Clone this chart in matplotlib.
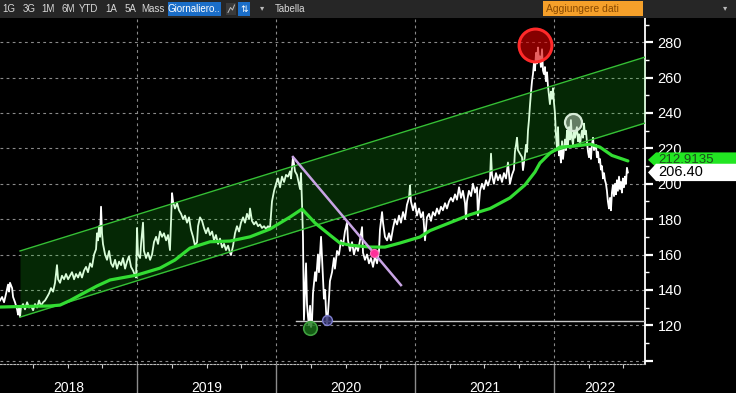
import matplotlib
matplotlib.use('Agg')
import matplotlib.pyplot as plt
from matplotlib.transforms import blended_transform_factory
from matplotlib.patches import Rectangle, Polygon

plt.rcParams['font.family'] = ['Liberation Sans', 'DejaVu Sans']

# ---------------- data (decimal years / price) ----------------
price_t = [
 2018.014,2018.029,2018.043,2018.058,2018.072,2018.079,2018.086,2018.101,2018.108,2018.122,
 2018.137,2018.144,2018.151,2018.158,2018.165,2018.180,2018.194,2018.209,2018.223,2018.237,
 2018.252,2018.266,2018.281,2018.295,2018.309,2018.324,2018.338,2018.353,2018.367,2018.381,
 2018.396,2018.410,2018.424,2018.432,2018.446,2018.460,2018.475,2018.489,2018.504,2018.518,
 2018.532,2018.547,2018.561,2018.576,2018.590,2018.604,2018.619,2018.633,2018.647,2018.662,
 2018.676,2018.691,2018.705,2018.712,2018.719,2018.727,2018.734,2018.741,2018.748,2018.755,
 2018.770,2018.784,2018.799,2018.813,2018.827,2018.842,2018.856,2018.871,
 2018.885,2018.899,2018.914,2018.928,2018.942,2018.957,2018.971,2018.986,2018.993,
 2019.000,2019.007,2019.022,2019.029,2019.043,2019.050,2019.065,2019.079,2019.094,2019.108,
 2019.122,2019.137,2019.151,2019.165,2019.180,2019.194,2019.209,2019.223,2019.237,2019.245,
 2019.252,2019.259,2019.273,2019.288,2019.302,2019.317,2019.331,2019.345,2019.360,2019.374,
 2019.388,2019.403,2019.417,2019.432,2019.439,2019.453,2019.468,2019.482,2019.496,2019.511,
 2019.525,2019.540,2019.554,2019.568,2019.583,2019.597,2019.612,2019.626,2019.640,2019.655,
 2019.669,2019.676,2019.691,2019.705,2019.719,2019.734,2019.748,2019.763,2019.777,2019.791,
 2019.806,2019.813,2019.827,2019.842,2019.856,2019.871,2019.885,2019.899,2019.914,2019.928,
 2019.942,2019.957,2019.971,2019.986,
 2020.000,2020.014,2020.029,2020.043,2020.058,2020.072,2020.086,2020.101,2020.108,2020.122,
 2020.137,2020.151,2020.165,2020.173,2020.180,2020.187,2020.194,2020.201,2020.209,2020.216,
 2020.223,2020.230,2020.237,2020.245,2020.252,2020.259,2020.266,2020.281,2020.288,2020.302,
 2020.309,2020.324,2020.331,2020.338,2020.345,2020.353,2020.360,2020.367,2020.374,2020.381,
 2020.388,2020.403,2020.417,2020.424,2020.439,2020.453,2020.468,2020.482,2020.496,2020.511,
 2020.518,2020.532,2020.547,2020.561,2020.576,2020.590,2020.604,2020.619,2020.626,2020.640,
 2020.655,2020.669,2020.683,2020.698,2020.712,2020.727,2020.741,2020.748,2020.763,2020.770,
 2020.784,2020.799,2020.813,2020.827,2020.842,2020.856,2020.871,2020.885,2020.899,2020.914,
 2020.928,2020.942,2020.957,2020.964,2020.971,2020.986,
 2021.000,2021.014,2021.029,2021.043,2021.058,2021.072,2021.086,2021.101,2021.115,2021.129,
 2021.144,2021.158,2021.173,2021.187,2021.201,2021.216,2021.230,2021.245,2021.259,2021.273,
 2021.288,2021.302,2021.317,2021.331,2021.345,2021.360,2021.367,2021.374,2021.388,2021.403,
 2021.417,2021.432,2021.446,2021.453,2021.468,2021.482,2021.496,2021.511,2021.525,2021.540,
 2021.547,2021.554,2021.568,2021.583,2021.597,2021.612,2021.626,2021.640,2021.655,2021.669,
 2021.683,2021.698,2021.712,2021.719,2021.727,2021.734,2021.741,2021.755,2021.770,2021.777,
 2021.791,2021.799,2021.806,2021.813,2021.820,2021.827,2021.835,2021.842,2021.849,2021.856,
 2021.863,2021.871,2021.878,2021.885,2021.892,2021.899,2021.906,2021.914,2021.921,2021.928,
 2021.935,2021.942,2021.950,2021.957,2021.964,2021.971,2021.978,2021.986,2021.993,
 2022.000,2022.007,2022.014,2022.022,2022.029,2022.036,2022.043,2022.050,2022.058,2022.065,
 2022.079,2022.086,2022.094,2022.101,2022.108,2022.115,2022.122,2022.129,2022.137,2022.144,
 2022.151,2022.165,2022.173,2022.180,2022.187,2022.201,2022.209,2022.216,2022.223,2022.230,
 2022.237,2022.245,2022.252,2022.259,2022.266,2022.273,2022.281,2022.288,2022.302,2022.309,
 2022.317,2022.324,2022.331,2022.338,2022.345,2022.353,2022.360,2022.367,2022.374,2022.381,
 2022.388,2022.396,2022.403,2022.410,2022.417,2022.424,2022.432,2022.439,2022.446,2022.453,
 2022.460,2022.468,2022.475,2022.482,2022.489,2022.496,2022.504,2022.511,2022.518,2022.525,
 2022.532]
price_v = [
 134,136,133,138,143,139,144,141,136,133,
 129,126,130,124.8,130,132,129,133,130,131,
 128.5,132,130,134,131,133,134,136,138,141,
 139,144,154,146,144,148,146,149,146,148,
 150,146,149,147,150,147,151,153,150,155,
 153,160,163,172,168,176,170,187,172,166,
 160,157,162,155,153,157,152,156,
 154,158,152,156,159,153,151,148,147,
 175,160,158,166,178,162,158,161,157,160,
 167,170,166,173,170,172,168,171,162.5,180,
 194.7,190,186,189,185,183,180,182,178,181,
 174,170,165,167,176,181,179,175,172,175,
 171,173,168,171,166,169,164,166,162.5,165,
 161,159.7,165,172,176,173,178,181,178,183,
 180,186,179,177,178.5,176,177,175,176,174.5,
 176,175,190,196,
 200,203,198,204,201,205,204,207,203,215,
 207,205,200,197,206,189,170,123,140,155,
 132,125,120,131,119,122,138,150,145,160,
 150,170,158,145,135,140,128,120,127,135,
 145,150,158,152,162,160,168,165,173,178,
 168,162,167,160,165,162,168,175.5,161,157,
 160,155,158,153,159,155,162,174,184,178,
 170,168,172,168,175,180,177,182,178,184,
 180,188,192,199,190,185,
 189,182,186,181,184,168,181,183,179,184,
 182,186,183,187,185,189,186,190,192,190,
 194,191,198,192,196,189,180,190,196,193,
 200,195,198,182,196,200,197,202,199,203,
 217,205,200,206,202,205,201,206,203,212,
 200,205,208,218,222,226,219,217,215,207.7,
 216,222,218,230,236,244,252,258,262,268,
 264,274,268,277,270,272,266,276,264,262,
 266,258,263,255,250,245,252,248,254,
 246,240,228,220,232,216,220,212,224,214,
 225,219,230,222,232,225,236,226,222,230,
 226,232,224,228,222,230,226,234,228,230,
 224,218,215,220,214,222,226,219,222,215,
 218,212,214,208,210,203,206,202,200,196,
 190,186,192,185,195,199,193,200,194,202,
 196,204,197,201,195,203,198,204,200,209,
 206.4]

ma_t = [2018.014, 2018.158, 2018.374, 2018.446, 2018.518, 2018.590, 2018.712, 2018.806,
        2019.000, 2019.165, 2019.273, 2019.381, 2019.525, 2019.669, 2019.813, 2019.957,
        2020.101, 2020.187, 2020.281, 2020.388, 2020.460, 2020.532, 2020.676, 2020.784,
        2020.892, 2021.036, 2021.108, 2021.252, 2021.396, 2021.540, 2021.683, 2021.791,
        2021.863, 2021.899, 2021.971, 2022.043, 2022.151, 2022.259, 2022.331, 2022.417,
        2022.532]
ma_v = [130.3, 130.6, 130.9, 131.4, 134.0, 137.1, 142.2, 145.6,
        148.4, 152.3, 156.9, 163.6, 167.2, 167.6, 170.0, 174.4,
        181.2, 185.7, 177.8, 171.0, 166.5, 165.3, 164.2, 164.2,
        166.5, 169.9, 173.5, 178.0, 182.5, 186.0, 192.0, 199.3,
        206.6, 211.7, 217.3, 220.7, 221.3, 222.4, 220.7, 216.0,
        212.9]

channel_t = [2018.158, 2022.655]
channel_upper = [162.0, 271.6]
channel_lower = [124.6, 234.3]

trend_t = [2020.122, 2020.899]
trend_v = [215.1, 142.7]

support_t = [2020.144, 2022.655]
support_v = [122.3, 122.3]

peak_pt = (2021.863, 278.4)
retest_pt = (2022.137, 234.9)
low1_pt = (2020.245, 118.4)
low2_pt = (2020.367, 122.9)
cross_pt = (2020.705, 160.8)

last_price = 206.40
last_ma = 212.9135

years = [2018, 2019, 2020, 2021, 2022]
yticks = list(range(100, 281, 20))
x_range = (2018.014, 2022.655)
y_range = (98.1, 293.7)

toolbar_items = ['1G', '3G', '1M', '6M', 'YTD', '1A', '5A', 'Mass']

# ---------------- figure ----------------
W, H = 736, 393
fig = plt.figure(figsize=(W / 100, H / 100), dpi=100, facecolor='black')

ax = fig.add_axes([0, 1 - 364 / H, 645 / W, (364 - 18) / H])
ax.set_facecolor('black')

# ticks (only those inside the visible range)
ax.set_xticks([y for y in years if x_range[0] < y < x_range[1]])
ax.set_xticks([y + q for y in years for q in (0.25, 0.5, 0.75)
               if x_range[0] < y + q < x_range[1]], minor=True)
ax.set_yticks(yticks)
ax.set_yticks([v + 10 for v in yticks if v + 10 < y_range[1]], minor=True)
ax.set_xlim(*x_range)
ax.set_ylim(*y_range)
ax.grid(True, which='major', color='#8a8a8a', linestyle=(0, (2.5, 3)), linewidth=0.8, zorder=0)

# price
ax.plot(price_t, price_v, color='white', linewidth=1.3, zorder=2)

# channel
ax.fill_between(channel_t, channel_lower, channel_upper, color=(0.12, 0.95, 0.12), alpha=0.17,
                linewidth=0, zorder=3)
ax.plot(channel_t, channel_upper, color='#35c035', linewidth=1.0, zorder=4)
ax.plot(channel_t, channel_lower, color='#35c035', linewidth=1.0, zorder=4)

# moving average
ax.plot(ma_t, ma_v, color='#33dd33', linewidth=2.3, zorder=5, solid_capstyle='round')

# trend line and support
ax.plot(trend_t, trend_v, color='#c8a4e4', linewidth=1.8, zorder=6)
ax.plot(support_t, support_v, color='#c8c8c8', linewidth=1.0, zorder=6)

# markers
ax.scatter([peak_pt[0]], [peak_pt[1]], s=560, facecolor=(0.85, 0.0, 0.0, 0.62),
           edgecolor='#ff2a2a', linewidth=2.2, zorder=7)
ax.scatter([retest_pt[0]], [retest_pt[1]], s=150, facecolor=(0.85, 0.9, 0.85, 0.45),
           edgecolor='#d8ecd8', linewidth=1.6, zorder=7)
ax.scatter([low1_pt[0]], [low1_pt[1]], s=95, facecolor=(0.1, 0.45, 0.1, 0.8),
           edgecolor='#3fa03f', linewidth=1.2, zorder=7)
ax.scatter([low2_pt[0]], [low2_pt[1]], s=50, facecolor=(0.2, 0.2, 0.45, 0.85),
           edgecolor='#8080d0', linewidth=1.0, zorder=7)
ax.scatter([cross_pt[0]], [cross_pt[1]], s=34, facecolor='#ff2f9a', edgecolor='#ff70b8',
           linewidth=0.8, zorder=8)

# spines / ticks
for s in ('left', 'top'):
    ax.spines[s].set_visible(False)
ax.spines['right'].set_color('white')
ax.spines['right'].set_linewidth(1.3)
ax.spines['bottom'].set_color('#bbbbbb')
ax.spines['bottom'].set_linestyle((0, (1.5, 1.5)))
ax.yaxis.tick_right()
ax.set_yticklabels(['' if v == 100 else str(v) for v in yticks])
ax.tick_params(axis='y', which='major', colors='white', length=6, width=1.6, pad=3,
               labelsize=10.5)
ax.tick_params(axis='y', which='minor', colors='white', length=3, width=1)
ax.tick_params(axis='x', which='major', colors='#8c8c8c', length=21, width=1, labelbottom=False)
ax.tick_params(axis='x', which='minor', colors='#cccccc', length=3, width=0.8)

# year labels centred on visible part of each year
xtr = ax.get_xaxis_transform()
for y in years:
    a = max(y, x_range[0])
    b = min(y + 1, x_range[1])
    ax.text((a + b) / 2, -0.068, str(y), transform=xtr, ha='center', va='center',
            color='white', fontsize=10, clip_on=False)

# right side value tags (the price tag partly covers the average tag, as in the terminal)
btr = blended_transform_factory(fig.transFigure, ax.transData)
def tag(val, half, face, txtcol, text, z, size):
    x0, xt, x1 = 648 / W, 656 / W, 1.0
    poly = Polygon([(x0, val), (xt, val + half), (x1, val + half), (x1, val - half), (xt, val - half)],
                   closed=True, transform=btr, facecolor=face, edgecolor='none',
                   clip_on=False, zorder=z)
    fig.add_artist(poly)
    fig.text(658 / W, val, text, transform=btr, color=txtcol, fontsize=size,
             va='center', ha='left', zorder=z + 0.5)
tag(last_ma + 0.6, 4.2, '#22e622', '#1d4a1d', f'{last_ma:.4f}', 10, 9.5)
tag(last_price, 4.9, 'white', 'black', f'{last_price:.2f}', 12, 10.5)

# ---------------- toolbar ----------------
tb = fig.add_axes([0, 1 - 18 / H, 1, 18 / H])
tb.set_xlim(0, W)
tb.set_ylim(18, 0)
tb.axis('off')
tb.add_patch(Rectangle((0, 0), W, 18, facecolor='#262626', edgecolor='none'))
tb_pos = [9, 29, 48, 68, 89, 111, 130, 153]
for lbl, xp in zip(toolbar_items, tb_pos):
    tb.text(xp, 9.5, lbl, color='#d8d8d8', fontsize=7, ha='center', va='center')
tb.add_patch(Rectangle((168, 2), 53, 14, facecolor='#1b6ec8', edgecolor='none'))
tb.text(194, 9.5, 'Giornaliero..', color='white', fontsize=7, ha='center', va='center')
tb.add_patch(Rectangle((226, 3), 10, 12, facecolor='#3a3a3a', edgecolor='none'))
tb.plot([228, 230.5, 232.5, 234.5], [12.5, 7.5, 10, 5], color='#bbbbbb', linewidth=0.7)
tb.add_patch(Rectangle((238, 2), 12, 14, facecolor='#1b6ec8', edgecolor='none'))
tb.text(244, 9.5, '⇅', color='white', fontsize=6.5, ha='center', va='center')
tb.text(262, 9, '▾', color='#bbbbbb', fontsize=6, ha='center', va='center')
tb.text(290, 9.5, 'Tabella', color='#d8d8d8', fontsize=7, ha='center', va='center')
tb.add_patch(Rectangle((543, 1), 100, 15, facecolor='#f5a02a', edgecolor='none'))
tb.text(546, 9.5, 'Aggiungere dati', color='#8a4a00', fontsize=7.5, ha='left', va='center')
tb.text(725, 9, '▾', color='#bbbbbb', fontsize=6, ha='center', va='center')

fig.savefig('out.png', dpi=100, facecolor='black')
